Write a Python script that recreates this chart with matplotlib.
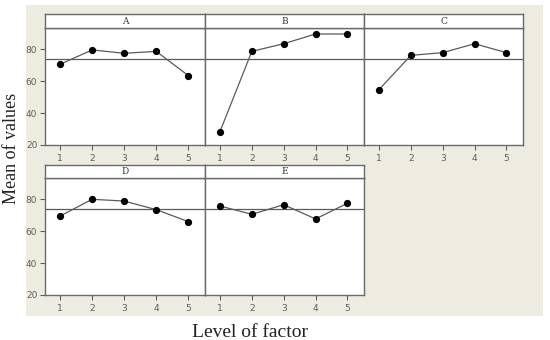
import matplotlib
matplotlib.use("Agg")
import matplotlib.pyplot as plt
import numpy as np

factors = ["A", "B", "C", "D", "E"]
levels = [1, 2, 3, 4, 5]
A = [70.6, 79.6, 77.5, 78.7, 63.5]
B = [28.4, 78.7, 83.5, 89.6, 89.6]
C = [54.7, 76.2, 77.9, 83.5, 77.9]
D = [69.5, 80.0, 78.9, 73.5, 66.0]
E = [75.8, 70.6, 76.6, 67.7, 77.5]
series = [A, B, C, D, E]
yticks = [20, 40, 60, 80]
grand_mean = float(np.mean(np.concatenate([np.array(s) for s in series])))

W, H = 550, 340
fig = plt.figure(figsize=(W / 100, H / 100), dpi=100)
fig.patch.set_facecolor("white")


def px_axes(x0, y0, x1, y1, **kw):
    return fig.add_axes([x0 / W, 1 - y1 / H, (x1 - x0) / W, (y1 - y0) / H], **kw)


# beige background panel
bg = px_axes(26, 5, 543, 316, zorder=-5)
bg.set_facecolor("#EEEBE0")
bg.set_xticks([])
bg.set_yticks([])
for sp in bg.spines.values():
    sp.set_visible(False)

frame_col = "#6a6a6a"
line_col = "#5a5a5a"
tick_col = "#5e5e5e"

panels = [
    (45, 205, 14, 28, 145),
    (205, 364, 14, 28, 145),
    (364, 523, 14, 28, 145),
    (45, 205, 165, 178, 295),
    (205, 364, 165, 178, 295),
]

for i, (name, vals, (x0, x1, ys, yb, ye)) in enumerate(zip(factors, series, panels)):
    ax = px_axes(x0, yb, x1, ye, zorder=2)
    ax.set_facecolor("white")
    ax.set_xlim(0.53, 5.52)
    ax.set_ylim(20, 20 + (ye - yb) / 1.595)
    ax.axhline(grand_mean, color=line_col, lw=0.9, zorder=1)
    ax.plot(levels, vals, color=line_col, lw=0.9, marker="o", ms=4.2,
            mfc="black", mec="black", zorder=3, clip_on=False)
    for sp in ax.spines.values():
        sp.set_color(frame_col)
        sp.set_linewidth(1.0)
    ax.set_xticks(levels)
    ax.set_xticklabels([str(l) for l in levels])
    ax.tick_params(axis="x", direction="out", length=3.5, width=0.8,
                   color=tick_col, labelsize=6.5, labelcolor=tick_col, pad=3)
    if i in (0, 3):
        ax.set_yticks(yticks)
        ax.set_yticklabels([str(t) for t in yticks])
        ax.tick_params(axis="y", direction="out", length=3.5, width=0.8,
                       color=tick_col, labelsize=6.5, labelcolor=tick_col, pad=2)
    else:
        ax.set_yticks([])
    # strip
    sx = px_axes(x0, ys, x1, yb, zorder=2)
    sx.set_facecolor("white")
    sx.set_xticks([])
    sx.set_yticks([])
    for sp in sx.spines.values():
        sp.set_color(frame_col)
        sp.set_linewidth(1.0)
    sx.text(0.5, 0.5, name, ha="center", va="center", fontsize=6.5,
            color="#333333", family="DejaVu Serif", transform=sx.transAxes)

fig.text(12 / W, 1 - 148 / H, "Mean of values", rotation=90, ha="center",
         va="center", fontsize=13, family="Liberation Serif", color="#222222")
fig.text(250 / W, 1 - 337 / H, "Level of factor", ha="center", va="baseline",
         fontsize=14, family="Liberation Serif", color="#222222")

fig.savefig("out.png", dpi=100, facecolor=fig.get_facecolor())
